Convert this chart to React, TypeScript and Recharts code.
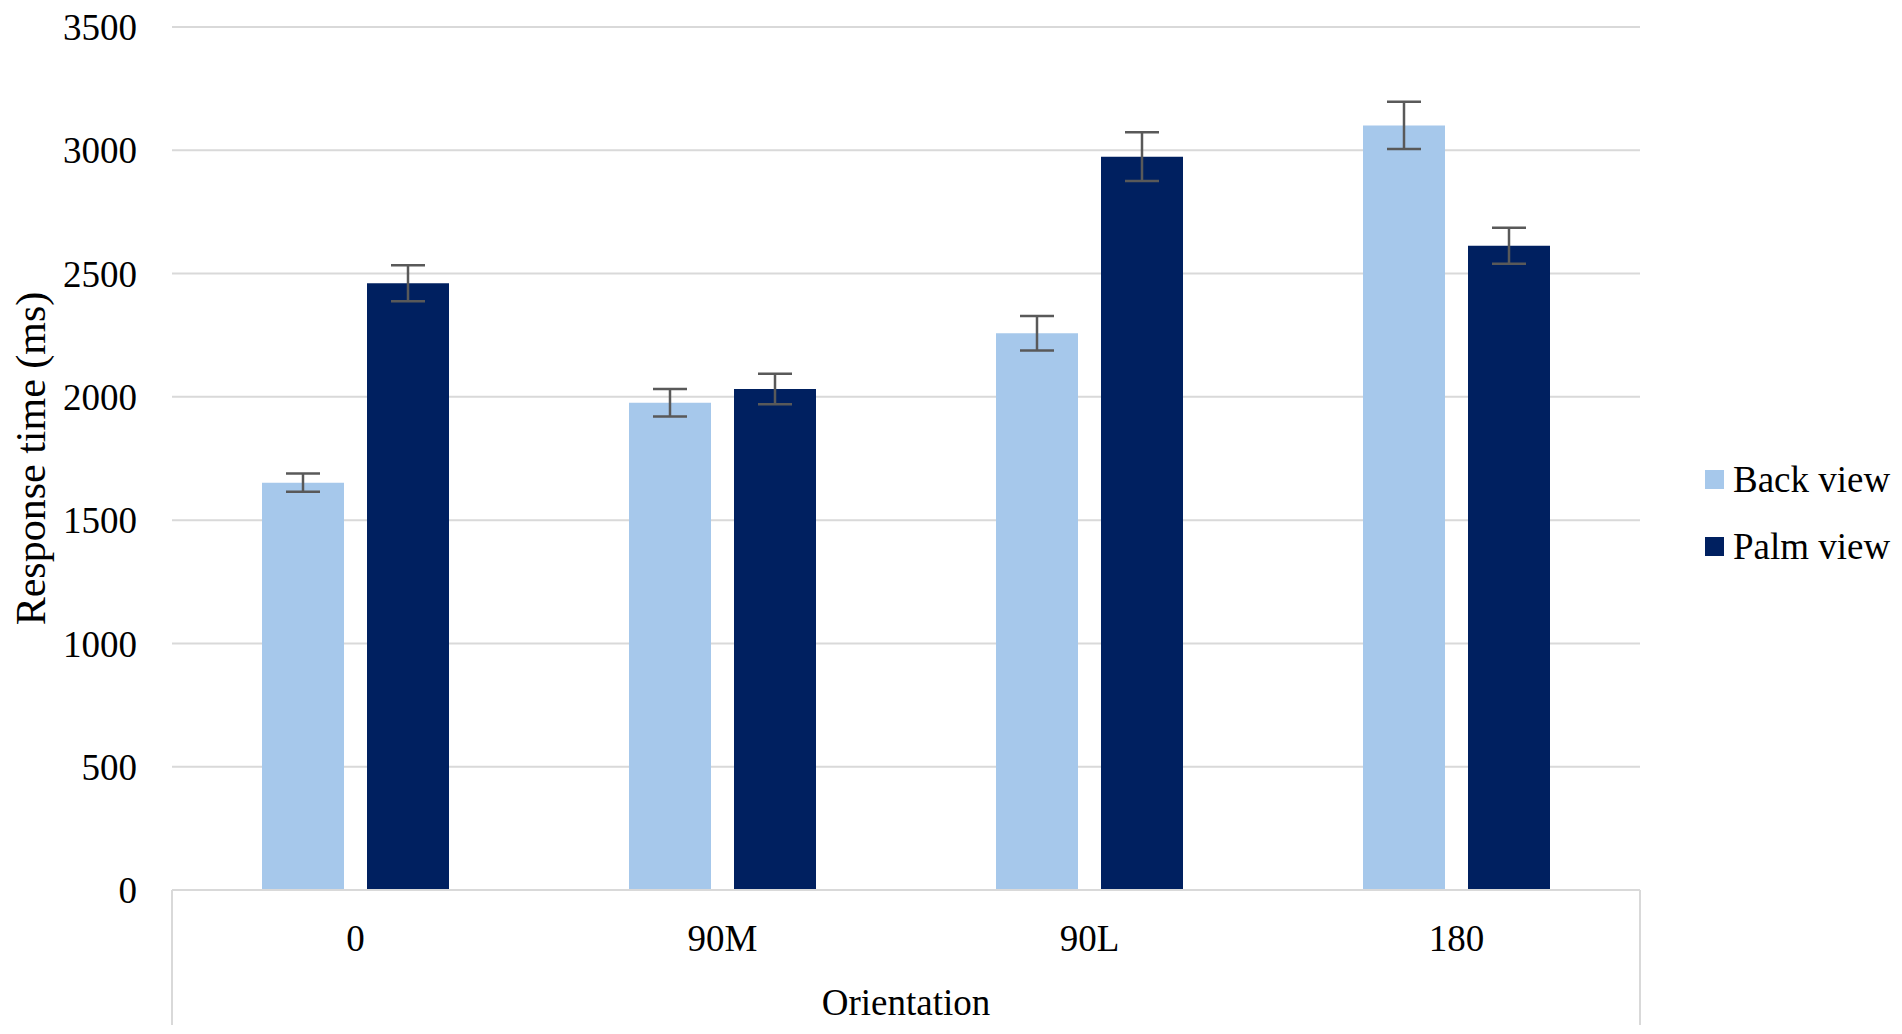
import React from "react";
import {
  BarChart,
  Bar,
  ErrorBar,
  XAxis,
  YAxis,
  CartesianGrid,
  Legend,
  Label,
} from "recharts";

const orientations = ["0", "90M", "90L", "180"];
const backView = [1652, 1976, 2258, 3101];
const backViewErr = [37, 56, 70, 96];
const palmView = [2461, 2032, 2974, 2613];
const palmViewErr = [73, 62, 99, 73];
const yTicks = [0, 500, 1000, 1500, 2000, 2500, 3000, 3500];

const data = orientations.map((o, i) => ({
  orientation: o,
  back: backView[i],
  backErr: backViewErr[i],
  palm: palmView[i],
  palmErr: palmViewErr[i],
}));

const WIDTH = 1886;
const HEIGHT = 1018;
const margin = { top: 19, right: 254, bottom: 0, left: 0 };
const Y_AXIS_WIDTH = 164;
const X_AXIS_HEIGHT = 136;
const FONT = "'Liberation Serif', 'Times New Roman', serif";
const GRID = "#d9d9d9";

const LegendBox = (props: any) => {
  const { payload } = props;
  return (
    <div style={{ fontFamily: FONT, fontSize: 37, color: "#000" }}>
      {(payload || []).map((entry: any) => (
        <div
          key={entry.value}
          style={{ display: "flex", alignItems: "center", height: 67 }}
        >
          <span
            style={{
              display: "inline-block",
              width: 19,
              height: 19,
              background: entry.color,
              marginRight: 9,
            }}
          />
          <span>{entry.value}</span>
        </div>
      ))}
    </div>
  );
};

// Excel-style category box: the two vertical lines under the plot edges
const CategoryBox = () => {
  const left = margin.left + Y_AXIS_WIDTH;
  const right = WIDTH - margin.right;
  const top = HEIGHT - margin.bottom - X_AXIS_HEIGHT;
  const bottom = HEIGHT - 1;
  return (
    <g>
      <line x1={left} y1={top} x2={left} y2={bottom} stroke={GRID} strokeWidth={2} />
      <line x1={right} y1={top} x2={right} y2={bottom} stroke={GRID} strokeWidth={2} />
    </g>
  );
};

export default function App() {
  return (
    <div style={{ fontFamily: FONT }}>
      <BarChart
        width={WIDTH}
        height={HEIGHT}
        data={data}
        margin={margin}
        barSize={82}
        barGap={23}
      >
        <CartesianGrid vertical={false} stroke={GRID} strokeWidth={2} />
        <XAxis
          dataKey="orientation"
          height={X_AXIS_HEIGHT}
          axisLine={{ stroke: GRID, strokeWidth: 2 }}
          tickLine={false}
          tickSize={0}
          tickMargin={35}
          tick={{ fill: "#000", fontSize: 37, fontFamily: FONT }}
        >
          <Label
            value="Orientation"
            position="insideBottom"
            offset={11}
            style={{ fill: "#000", fontSize: 37, fontFamily: FONT }}
          />
        </XAxis>
        <YAxis
          width={Y_AXIS_WIDTH}
          domain={[0, 3500]}
          ticks={yTicks}
          interval={0}
          axisLine={false}
          tickLine={false}
          tickSize={0}
          tickMargin={35}
          tick={{ fill: "#000", fontSize: 37, fontFamily: FONT }}
        >
          <Label
            value="Response time (ms)"
            angle={-90}
            position="insideLeft"
            offset={22}
            style={{ fill: "#000", fontSize: 42, fontFamily: FONT, textAnchor: "middle" }}
          />
        </YAxis>
        <Legend
          layout="horizontal"
          align="center"
          verticalAlign="middle"
          wrapperStyle={{ left: 1697, top: 438, width: 200 }}
          content={<LegendBox />}
        />
        <Bar dataKey="back" name="Back view" fill="#a6c8eb" isAnimationActive={false}>
          <ErrorBar dataKey="backErr" width={17} strokeWidth={2.5} stroke="#595959" />
        </Bar>
        <Bar dataKey="palm" name="Palm view" fill="#002060" isAnimationActive={false}>
          <ErrorBar dataKey="palmErr" width={17} strokeWidth={2.5} stroke="#595959" />
        </Bar>
        <CategoryBox />
      </BarChart>
    </div>
  );
}
